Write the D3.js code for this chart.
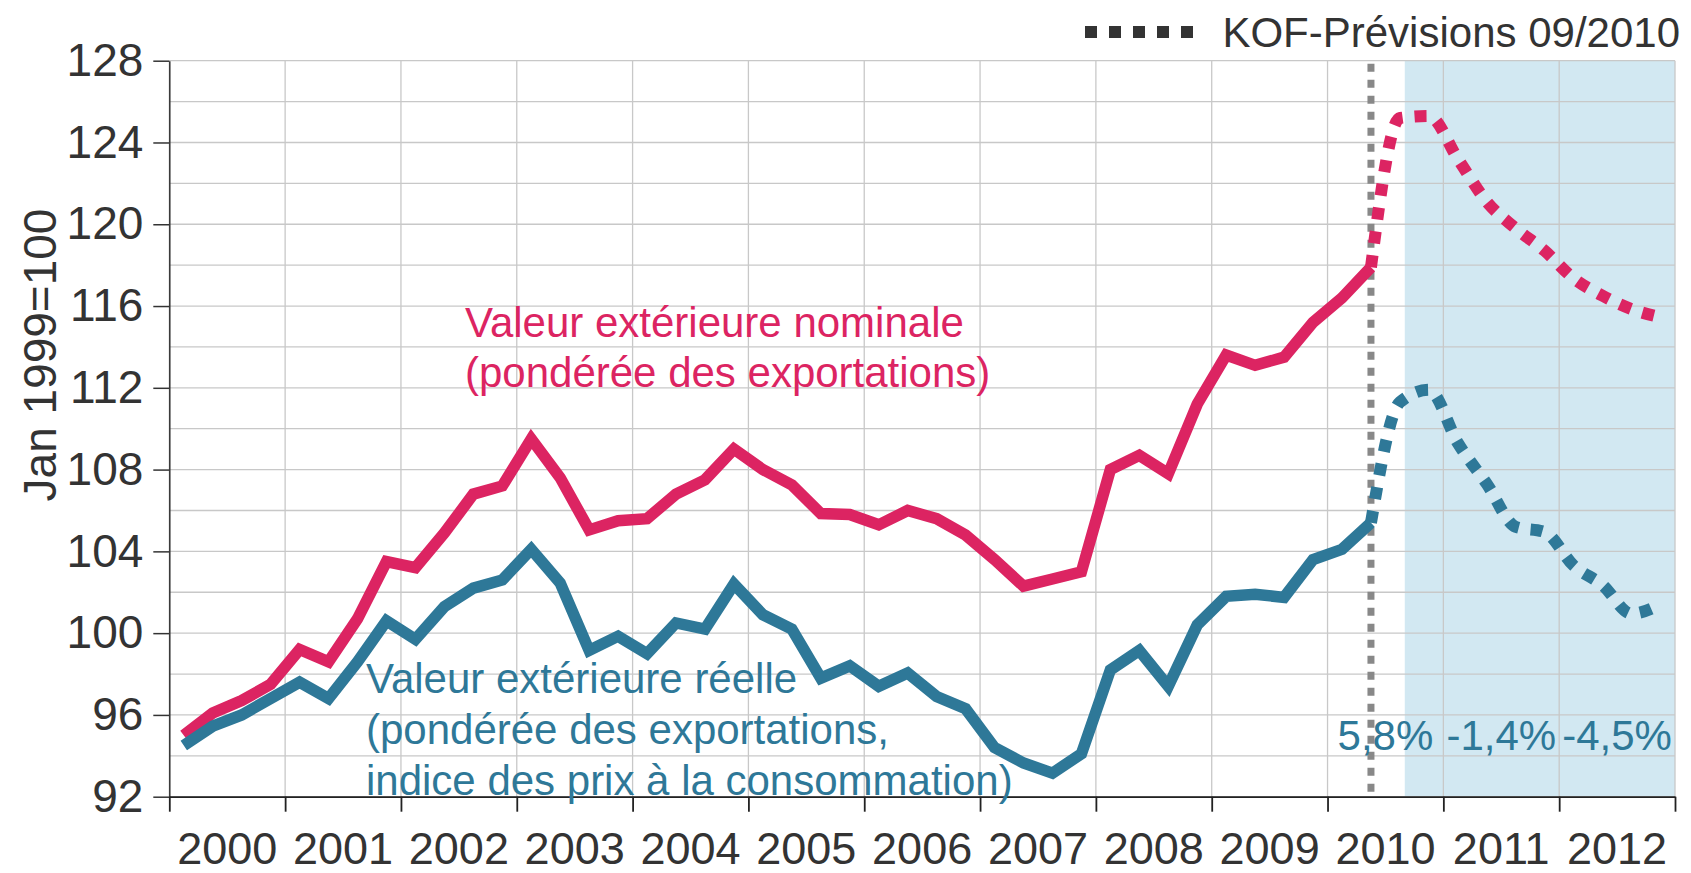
<!DOCTYPE html>
<html>
<head>
<meta charset="utf-8">
<script src="https://cdn.jsdelivr.net/npm/d3@7"></script>
<style>
  body { margin: 0; background: #fff; }
  text { font-family: "Liberation Sans", Arial, sans-serif; }
</style>
</head>
<body>
<div id="chart"></div>
<script>
// Chart data (quarterly, Jan 1999 = 100)
var years = [2000, 2001, 2002, 2003, 2004, 2005, 2006, 2007, 2008, 2009, 2010, 2011, 2012];
var yTicks = [92, 96, 100, 104, 108, 112, 116, 120, 124, 128];

// 2000Q1 .. 2010Q2
var nominal = [95.0, 96.1, 96.7, 97.5, 99.2, 98.6, 100.7, 103.5, 103.2, 104.9,
  106.8, 107.2, 109.5, 107.6, 105.05, 105.5, 105.6, 106.8, 107.5, 109.0,
  108.0, 107.25, 105.85, 105.8, 105.3, 106.0, 105.6, 104.8, 103.6, 102.3,
  102.65, 103.0, 108.0, 108.7, 107.8, 111.2, 113.6, 113.1, 113.5, 115.2,
  116.4, 117.9];
var real = [94.5, 95.45, 96.0, 96.8, 97.6, 96.8, 98.6, 100.6, 99.7, 101.3,
  102.2, 102.6, 104.1, 102.45, 99.15, 99.85, 99.0, 100.5, 100.2, 102.4,
  100.9, 100.2, 97.8, 98.4, 97.4, 98.05, 96.9, 96.3, 94.4, 93.65,
  93.15, 94.1, 98.2, 99.15, 97.4, 100.4, 101.8, 101.9, 101.75, 103.6,
  104.1, 105.4];

// KOF forecast 09/2010: 2010Q2 .. 2012Q4
var nominalForecast = [117.9, 125.2, 125.3, 123.2, 121.1, 119.8, 118.7, 117.35, 116.5, 115.85, 115.45];
var realForecast = [105.4, 111.3, 111.9, 109.3, 107.3, 105.2, 104.95, 103.3, 102.35, 100.95, 101.4];

var growthYears = [2010, 2011, 2012];
var growthLabels = ["5,8%", "-1,4%", "-4,5%"];
var forecastStart = 2010.667;

var red = "#dc2462";
var blue = "#2e7898";
var textColor = "#333333";

var svgWidth = 1691;
var svgHeight = 873;
var margin = { top: 60.7, right: 16, bottom: 76.3, left: 169.3 };
var width = svgWidth - margin.left - margin.right;
var height = svgHeight - margin.top - margin.bottom;

var svg = d3.select("#chart")
  .append("svg")
  .attr("width", svgWidth)
  .attr("height", svgHeight);

var chartGroup = svg.append("g")
  .attr("transform", `translate(${margin.left}, ${margin.top})`);

var xScale = d3.scaleLinear()
  .domain([years[0], years[years.length - 1] + 1])
  .range([0, width]);
var yScale = d3.scaleLinear()
  .domain([yTicks[0], yTicks[yTicks.length - 1]])
  .range([height, 0]);

// quarter midpoints
function quarterTime(i) { return years[0] + (i + 0.5) / 4; }
var histPoints = nominal.map(function(v, i) { return { t: quarterTime(i), nom: v, real: real[i] }; });
var lastIndex = nominal.length - 1;
var forecastPoints = nominalForecast.map(function(v, j) {
  return { t: quarterTime(lastIndex + j), nom: v, real: realForecast[j] };
});

// forecast shading
chartGroup.append("rect")
  .attr("x", xScale(forecastStart))
  .attr("y", 0)
  .attr("width", xScale.range()[1] - xScale(forecastStart))
  .attr("height", height)
  .attr("fill", "#d2e8f2");

// grid
var yGrid = d3.range(yTicks[0], yTicks[yTicks.length - 1] + 1, 2);
chartGroup.append("g").selectAll("line")
  .data(yGrid)
  .enter()
  .append("line")
  .attr("x1", 0)
  .attr("x2", width)
  .attr("y1", d => yScale(d))
  .attr("y2", d => yScale(d))
  .attr("stroke", "#c8c8c8")
  .attr("stroke-width", 1.3);

var xGrid = years.concat([years[years.length - 1] + 1]);
chartGroup.append("g").selectAll("line")
  .data(xGrid)
  .enter()
  .append("line")
  .attr("x1", d => xScale(d))
  .attr("x2", d => xScale(d))
  .attr("y1", 0)
  .attr("y2", height)
  .attr("stroke", "#c8c8c8")
  .attr("stroke-width", 1.3);

// axes
var leftAxis = d3.axisLeft(yScale)
  .tickValues(yTicks)
  .tickSize(16)
  .tickSizeOuter(0)
  .tickPadding(10);
var bottomAxis = d3.axisBottom(xScale)
  .tickValues(xGrid)
  .tickSize(15)
  .tickSizeOuter(0)
  .tickFormat("");

var yAxisG = chartGroup.append("g").call(leftAxis);
yAxisG.selectAll("text")
  .style("font-size", "46px")
  .attr("fill", textColor);
yAxisG.selectAll("line, path").attr("stroke", "#333").attr("stroke-width", 1.5);

var xAxisG = chartGroup.append("g")
  .attr("transform", `translate(0, ${height})`)
  .call(bottomAxis);
xAxisG.selectAll("line, path").attr("stroke", "#222").attr("stroke-width", 1.8);

// year labels sit between the ticks
chartGroup.append("g").selectAll("text")
  .data(years)
  .enter()
  .append("text")
  .attr("x", d => xScale(d + 0.5))
  .attr("y", height + 67)
  .attr("text-anchor", "middle")
  .style("font-size", "45px")
  .attr("fill", textColor)
  .text(d => d);

// y axis title
chartGroup.append("text")
  .attr("transform", "rotate(-90)")
  .attr("x", -(355 - margin.top))
  .attr("y", 56 - margin.left)
  .attr("text-anchor", "middle")
  .style("font-size", "46px")
  .attr("fill", textColor)
  .text("Jan 1999=100");

// forecast marker line
chartGroup.append("line")
  .attr("x1", xScale(quarterTime(lastIndex)))
  .attr("x2", xScale(quarterTime(lastIndex)))
  .attr("y1", 3)
  .attr("y2", height - 4)
  .attr("stroke", "#888")
  .attr("stroke-width", 7)
  .attr("stroke-dasharray", "8 8");

// lines
var lineNom = d3.line().x(d => xScale(d.t)).y(d => yScale(d.nom));
var lineReal = d3.line().x(d => xScale(d.t)).y(d => yScale(d.real));
var fcNom = d3.line().curve(d3.curveMonotoneX).x(d => xScale(d.t)).y(d => yScale(d.nom));
var fcReal = d3.line().curve(d3.curveMonotoneX).x(d => xScale(d.t)).y(d => yScale(d.real));

chartGroup.append("path")
  .datum(forecastPoints)
  .attr("d", fcNom)
  .attr("fill", "none")
  .attr("stroke", red)
  .attr("stroke-width", 12)
  .attr("stroke-dasharray", "12 12");

chartGroup.append("path")
  .datum(forecastPoints)
  .attr("d", fcReal)
  .attr("fill", "none")
  .attr("stroke", blue)
  .attr("stroke-width", 12)
  .attr("stroke-dasharray", "12 12");

chartGroup.append("path")
  .datum(histPoints)
  .attr("d", lineNom)
  .attr("fill", "none")
  .attr("stroke", red)
  .attr("stroke-width", 11.5);

chartGroup.append("path")
  .datum(histPoints)
  .attr("d", lineReal)
  .attr("fill", "none")
  .attr("stroke", blue)
  .attr("stroke-width", 11.5);

// series labels
var nomLabel = chartGroup.append("text")
  .attr("x", 465 - margin.left)
  .attr("y", 337 - margin.top)
  .style("font-size", "42px")
  .attr("fill", red);
nomLabel.append("tspan").text("Valeur extérieure nominale");
nomLabel.append("tspan").attr("x", 465 - margin.left).attr("dy", 50).text("(pondérée des exportations)");

var realLabel = chartGroup.append("text")
  .attr("x", 366 - margin.left)
  .attr("y", 693 - margin.top)
  .style("font-size", "42px")
  .attr("fill", blue);
realLabel.append("tspan").text("Valeur extérieure réelle");
realLabel.append("tspan").attr("x", 366 - margin.left).attr("dy", 51).text("(pondérée des exportations,");
realLabel.append("tspan").attr("x", 366 - margin.left).attr("dy", 51).text("indice des prix à la consommation)");

// yearly growth of the forecast
chartGroup.append("g").selectAll("text")
  .data(growthLabels)
  .enter()
  .append("text")
  .attr("x", (d, i) => xScale(growthYears[i] + 0.5))
  .attr("y", 750 - margin.top)
  .attr("text-anchor", "middle")
  .style("font-size", "42px")
  .attr("fill", blue)
  .text(d => d);

// legend
svg.append("line")
  .attr("x1", 1085)
  .attr("x2", 1193)
  .attr("y1", 32)
  .attr("y2", 32)
  .attr("stroke", "#333")
  .attr("stroke-width", 12)
  .attr("stroke-dasharray", "12 12");

svg.append("text")
  .attr("x", 1680)
  .attr("y", 46.7)
  .attr("text-anchor", "end")
  .style("font-size", "42px")
  .attr("fill", textColor)
  .text("KOF-Prévisions 09/2010");
</script>
</body>
</html>
